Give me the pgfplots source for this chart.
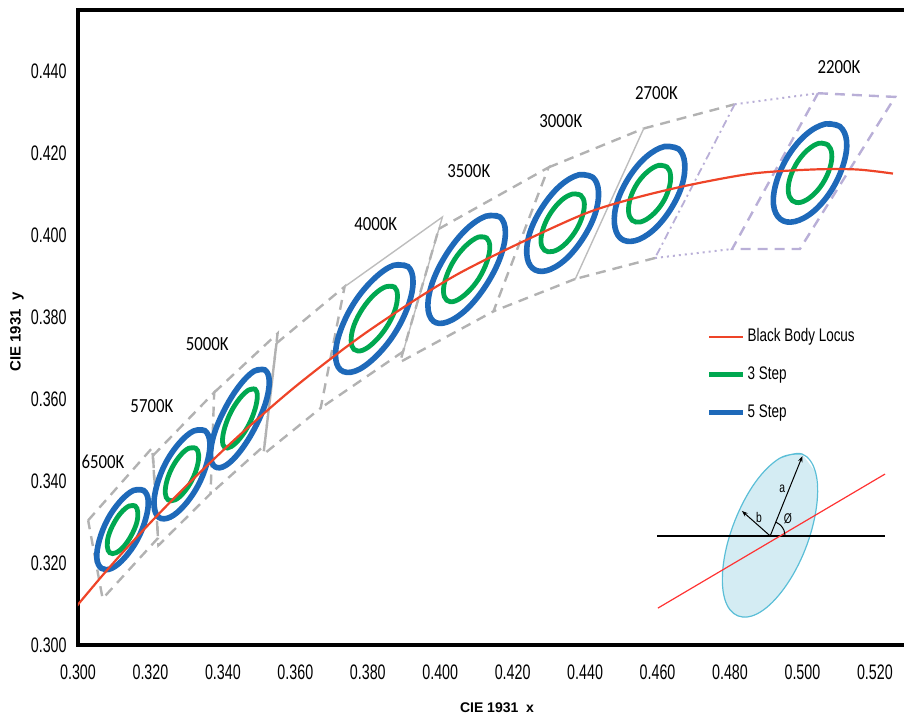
\documentclass[border=0pt]{standalone}
\usepackage{fontspec}
\setmainfont{Liberation Sans}
\newfontfamily\tickfont{Liberation Sans}[FakeStretch=0.68]
\newfontfamily\legfont{Liberation Sans}[FakeStretch=0.74]
\newfontfamily\cctfont{Carlito}[FakeStretch=0.84]
\usepackage{pgfplots}
\pgfplotsset{compat=1.18}
\usetikzlibrary{arrows.meta}

\definecolor{locus}{RGB}{238,68,40}
\definecolor{step3}{RGB}{0,168,80}
\definecolor{step5}{RGB}{30,105,185}
\definecolor{quad}{RGB}{178,178,178}
\definecolor{lav}{RGB}{185,175,215}
\definecolor{insetfill}{RGB}{212,236,243}
\definecolor{insetdraw}{RGB}{90,190,215}

\pgfplotsset{
  qdash/.style={quad, line width=1.2pt, dash pattern=on 5pt off 3.5pt, forget plot},
  qsolid/.style={quad!85, line width=0.7pt, forget plot},
  ell5/.style={step5, line width=2.8pt, smooth, tension=0.63, forget plot},
  ell3/.style={step3, line width=2.4pt, smooth, tension=0.63, forget plot},
}
\tikzset{cct/.style={font=\cctfont\fontsize{10}{12}\selectfont}}

\begin{document}
\begin{tikzpicture}
\begin{axis}[
    scale only axis,
    width=416pt, height=317.5pt,
    xmin=0.300, xmax=0.5297,
    ymin=0.300, ymax=0.4549,
    axis line style={line width=2.4pt},
    xtick={0.30,0.32,0.34,0.36,0.38,0.40,0.42,0.44,0.46,0.48,0.50,0.52},
    ytick={0.30,0.32,0.34,0.36,0.38,0.40,0.42,0.44},
    major tick length=0pt,
    scaled ticks=false,
    /pgf/number format/fixed,
    /pgf/number format/fixed zerofill,
    /pgf/number format/precision=3,
    /pgf/number format/assume math mode=true,
    tick label style={font=\tickfont\fontsize{10.5}{12}\selectfont},
    xticklabel style={anchor=center, inner sep=0pt, yshift=-13.5pt},
    yticklabel style={anchor=east, inner sep=0pt, xshift=-5.5pt},
    xlabel={CIE 1931\ \ x},
    ylabel={CIE 1931\ \ y},
    xlabel style={font=\bfseries\fontsize{7}{8}\selectfont, at={(rel axis cs:0.5036,-0.0992)}, anchor=center},
    ylabel style={font=\bfseries\fontsize{7.5}{8}\selectfont, at={(rel axis cs:-0.0733,0.493)}, anchor=center},
    legend style={at={(axis cs:0.4734,0.3778)}, anchor=north west, draw=none, fill=none,
        font=\legfont\fontsize{9.1}{10}\selectfont, row sep=9pt, inner sep=0pt,
        nodes={inner sep=1pt}},
    legend cell align=left,
    legend image code/.code={\draw[#1] (0pt,0pt) -- (17pt,0pt);},
]

% ANSI quadrangles
\addplot[qdash] coordinates {(0.3028,0.3304) (0.3205,0.3481) (0.3221,0.3261) (0.3068,0.3113) (0.3028,0.3304)};
\addplot[qdash] coordinates {(0.3207,0.3462) (0.3376,0.3616) (0.3366,0.3369) (0.3222,0.3243) (0.3207,0.3462)};
\addplot[qdash] coordinates {(0.3376,0.3616) (0.3551,0.3760) (0.3515,0.3487) (0.3366,0.3369)};
\addplot[qdash] coordinates {(0.3548,0.3736) (0.3736,0.3874) (0.3670,0.3578) (0.3512,0.3465) (0.3548,0.3736)};
\addplot[qsolid] coordinates {(0.3736,0.3874) (0.4006,0.4044) (0.3898,0.3716)};
\addplot[qdash] coordinates {(0.3898,0.3716) (0.3670,0.3578)};
\addplot[qdash] coordinates {(0.3996,0.4015) (0.4299,0.4165) (0.4147,0.3814) (0.3889,0.3690) (0.3996,0.4015)};
\addplot[qdash] coordinates {(0.4299,0.4165) (0.4562,0.4260)};
\addplot[qdash] coordinates {(0.4373,0.3893) (0.4147,0.3814)};
\addplot[qdash] coordinates {(0.4562,0.4260) (0.4813,0.4319)};
\addplot[qdash] coordinates {(0.4593,0.3944) (0.4373,0.3893)};
\addplot[qsolid] coordinates {(0.4373,0.3893) (0.4562,0.4260)};
\addplot[lav, line width=0.9pt, dash pattern=on 4pt off 2pt on 1pt off 2pt, forget plot] coordinates {(0.4813,0.4319) (0.4593,0.3944)};
% 2200K quadrangle
\addplot[lav, line width=1pt, dash pattern=on 1pt off 2pt, forget plot] coordinates {(0.4813,0.4319) (0.5043,0.4346)};
\addplot[lav, line width=1pt, dash pattern=on 1pt off 2pt, forget plot] coordinates {(0.4593,0.3944) (0.4806,0.3966)};
\addplot[lav, line width=1.2pt, dash pattern=on 5pt off 3.5pt, forget plot] coordinates {(0.5043,0.4346) (0.5256,0.4337) (0.4993,0.3966) (0.4806,0.3966) (0.5043,0.4346)};

% 5-step ellipses
\addplot[ell5] coordinates {(0.3181,0.3377) (0.3153,0.3377) (0.3117,0.3351) (0.3082,0.3307) (0.3059,0.3256) (0.3052,0.3212) (0.3065,0.3187) (0.3093,0.3187) (0.3129,0.3213) (0.3164,0.3257) (0.3187,0.3308) (0.3194,0.3352) (0.3181,0.3377) (0.3153,0.3377)};
\addplot[ell5] coordinates {(0.3350,0.3523) (0.3319,0.3522) (0.3280,0.3493) (0.3242,0.3444) (0.3217,0.3387) (0.3210,0.3339) (0.3224,0.3311) (0.3255,0.3312) (0.3294,0.3341) (0.3332,0.3390) (0.3357,0.3447) (0.3364,0.3495) (0.3350,0.3523) (0.3319,0.3522)};
\addplot[ell5] coordinates {(0.3516,0.3671) (0.3486,0.3668) (0.3446,0.3633) (0.3406,0.3577) (0.3376,0.3515) (0.3366,0.3463) (0.3378,0.3435) (0.3408,0.3438) (0.3448,0.3473) (0.3488,0.3529) (0.3518,0.3591) (0.3528,0.3643) (0.3516,0.3671) (0.3486,0.3668)};
\addplot[ell5] coordinates {(0.3911,0.3923) (0.3871,0.3926) (0.3818,0.3894) (0.3764,0.3837) (0.3725,0.3768) (0.3711,0.3708) (0.3725,0.3671) (0.3765,0.3668) (0.3818,0.3700) (0.3872,0.3757) (0.3911,0.3826) (0.3925,0.3886) (0.3911,0.3923) (0.3871,0.3926)};
\addplot[ell5] coordinates {(0.4165,0.4044) (0.4126,0.4046) (0.4072,0.4014) (0.4019,0.3956) (0.3980,0.3888) (0.3966,0.3827) (0.3981,0.3790) (0.4020,0.3788) (0.4074,0.3820) (0.4127,0.3878) (0.4166,0.3946) (0.4180,0.4007) (0.4165,0.4044) (0.4126,0.4046)};
\addplot[ell5] coordinates {(0.4421,0.4141) (0.4383,0.4147) (0.4332,0.4121) (0.4284,0.4071) (0.4249,0.4010) (0.4239,0.3954) (0.4255,0.3919) (0.4293,0.3913) (0.4344,0.3939) (0.4392,0.3989) (0.4427,0.4050) (0.4437,0.4106) (0.4421,0.4141) (0.4383,0.4147)};
\addplot[ell5] coordinates {(0.4658,0.4210) (0.4619,0.4216) (0.4569,0.4191) (0.4522,0.4142) (0.4489,0.4082) (0.4481,0.4028) (0.4498,0.3992) (0.4537,0.3986) (0.4587,0.4011) (0.4634,0.4060) (0.4667,0.4120) (0.4675,0.4175) (0.4658,0.4210) (0.4619,0.4216)};
\addplot[ell5] coordinates {(0.5103,0.4265) (0.5063,0.4271) (0.5011,0.4246) (0.4962,0.4195) (0.4929,0.4132) (0.4920,0.4075) (0.4939,0.4039) (0.4979,0.4033) (0.5031,0.4058) (0.5080,0.4109) (0.5113,0.4172) (0.5122,0.4229) (0.5103,0.4265) (0.5063,0.4271)};

% 3-step ellipses
\addplot[ell3] coordinates {(0.3158,0.3339) (0.3141,0.3339) (0.3119,0.3323) (0.3099,0.3297) (0.3084,0.3266) (0.3081,0.3240) (0.3088,0.3225) (0.3105,0.3225) (0.3127,0.3241) (0.3147,0.3267) (0.3162,0.3298) (0.3165,0.3324) (0.3158,0.3339) (0.3141,0.3339)};
\addplot[ell3] coordinates {(0.3325,0.3480) (0.3306,0.3480) (0.3283,0.3463) (0.3260,0.3433) (0.3245,0.3399) (0.3241,0.3370) (0.3249,0.3354) (0.3268,0.3354) (0.3291,0.3371) (0.3314,0.3401) (0.3329,0.3435) (0.3333,0.3464) (0.3325,0.3480) (0.3306,0.3480)};
\addplot[ell3] coordinates {(0.3489,0.3624) (0.3471,0.3622) (0.3446,0.3601) (0.3422,0.3568) (0.3405,0.3530) (0.3399,0.3499) (0.3405,0.3482) (0.3423,0.3484) (0.3448,0.3505) (0.3472,0.3538) (0.3489,0.3576) (0.3495,0.3607) (0.3489,0.3624) (0.3471,0.3622)};
\addplot[ell3] coordinates {(0.3874,0.3873) (0.3850,0.3874) (0.3818,0.3855) (0.3786,0.3821) (0.3762,0.3780) (0.3754,0.3743) (0.3762,0.3721) (0.3786,0.3719) (0.3818,0.3739) (0.3850,0.3773) (0.3874,0.3814) (0.3882,0.3851) (0.3874,0.3873) (0.3850,0.3874)};
\addplot[ell3] coordinates {(0.4128,0.3993) (0.4105,0.3995) (0.4072,0.3975) (0.4040,0.3941) (0.4017,0.3899) (0.4009,0.3863) (0.4018,0.3841) (0.4041,0.3839) (0.4074,0.3859) (0.4106,0.3893) (0.4129,0.3935) (0.4137,0.3971) (0.4128,0.3993) (0.4105,0.3995)};
\addplot[ell3] coordinates {(0.4388,0.4097) (0.4365,0.4100) (0.4335,0.4085) (0.4305,0.4054) (0.4285,0.4018) (0.4278,0.3984) (0.4288,0.3963) (0.4311,0.3960) (0.4341,0.3975) (0.4371,0.4006) (0.4391,0.4042) (0.4398,0.4076) (0.4388,0.4097) (0.4365,0.4100)};
\addplot[ell3] coordinates {(0.4626,0.4166) (0.4603,0.4170) (0.4573,0.4155) (0.4544,0.4126) (0.4525,0.4090) (0.4520,0.4057) (0.4530,0.4036) (0.4553,0.4032) (0.4583,0.4047) (0.4612,0.4076) (0.4631,0.4112) (0.4636,0.4145) (0.4626,0.4166) (0.4603,0.4170)};
\addplot[ell3] coordinates {(0.5070,0.4220) (0.5046,0.4224) (0.5015,0.4208) (0.4986,0.4178) (0.4966,0.4140) (0.4961,0.4106) (0.4972,0.4084) (0.4996,0.4080) (0.5027,0.4096) (0.5056,0.4126) (0.5076,0.4164) (0.5081,0.4198) (0.5070,0.4220) (0.5046,0.4224)};

% black body locus
\addplot[locus, line width=1.1pt, smooth, forget plot] coordinates {
    (0.2952,0.3048) (0.3064,0.3166) (0.3135,0.3237) (0.3221,0.3318)
    (0.3324,0.3410) (0.3451,0.3516) (0.3608,0.3636) (0.3805,0.3768)
    (0.4053,0.3907) (0.4369,0.4041) (0.4520,0.4086) (0.4682,0.4121)
    (0.4862,0.4150) (0.5030,0.4160) (0.5150,0.4160) (0.5250,0.4150)};

% inset sketch
\addplot[fill=insetfill, draw=none, smooth, tension=0.63, forget plot] coordinates {(0.4999,0.3466) (0.4938,0.3456) (0.4870,0.3397) (0.4813,0.3302) (0.4782,0.3199) (0.4785,0.3114) (0.4822,0.3071) (0.4883,0.3080) (0.4951,0.3140) (0.5008,0.3234) (0.5039,0.3338) (0.5036,0.3422)};
\addplot[insetdraw, line width=0.6pt, smooth, tension=0.63, forget plot] coordinates {(0.4999,0.3466) (0.4938,0.3456) (0.4870,0.3397) (0.4813,0.3302) (0.4782,0.3199) (0.4785,0.3114) (0.4822,0.3071) (0.4883,0.3080) (0.4951,0.3140) (0.5008,0.3234) (0.5039,0.3338) (0.5036,0.3422) (0.4999,0.3466) (0.4938,0.3456)};
\addplot[black, line width=0.6pt, forget plot] coordinates {(0.4599,0.3266) (0.5228,0.3266)};
\addplot[red!80!white, line width=0.6pt, forget plot] coordinates {(0.4601,0.3090) (0.5228,0.3417)};
\addplot[black, line width=0.5pt, -{Stealth[length=3pt,width=2.2pt]}, forget plot] coordinates {(0.4911,0.3266) (0.5000,0.3461)};
\addplot[black, line width=0.5pt, -{Stealth[length=3pt,width=2.2pt]}, forget plot] coordinates {(0.4911,0.3266) (0.4833,0.3327)};
\addplot[black, line width=0.5pt, smooth, forget plot] coordinates {(0.4952,0.3266) (0.4949,0.3280) (0.4940,0.3292) (0.4926,0.3300)};
\node[font=\legfont\fontsize{7}{8}\selectfont] at (axis cs:0.4944,0.3380) {a};
\node[font=\legfont\fontsize{7}{8}\selectfont] at (axis cs:0.4880,0.3312) {b};
\node[font=\legfont\fontsize{7}{8}\selectfont] at (axis cs:0.4960,0.3307) {Ø};

% CCT labels
\node[cct] at (axis cs:0.3069,0.3446) {6500K};
\node[cct] at (axis cs:0.3204,0.3583) {5700K};
\node[cct] at (axis cs:0.3357,0.3735) {5000K};
\node[cct] at (axis cs:0.3822,0.4027) {4000K};
\node[cct] at (axis cs:0.4079,0.4156) {3500K};
\node[cct] at (axis cs:0.4333,0.4278) {3000K};
\node[cct] at (axis cs:0.4597,0.4346) {2700K};
\node[cct] at (axis cs:0.5101,0.4410) {2200K};

\addlegendimage{locus, line width=1pt}
\addlegendentry{Black Body Locus}
\addlegendimage{step3, line width=2.6pt}
\addlegendentry{3 Step}
\addlegendimage{step5, line width=2.6pt}
\addlegendentry{5 Step}
\end{axis}
\pgfresetboundingbox
\path[use as bounding box] (-39pt,-39.5pt) rectangle (413pt,322.5pt);
\end{tikzpicture}
\end{document}
